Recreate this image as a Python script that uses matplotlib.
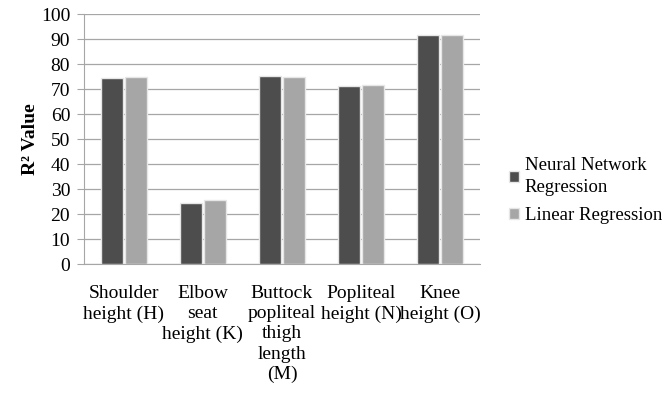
import numpy as np
import matplotlib
matplotlib.use('Agg')
import matplotlib.pyplot as plt

# data
categories = ['Shoulder\nheight (H)', 'Elbow\nseat\nheight (K)',
              'Buttock\npopliteal\nthigh\nlength\n(M)', 'Popliteal\nheight (N)',
              'Knee\nheight (O)']
nn_values = [74.3, 24.4, 75.2, 71.3, 91.7]
lr_values = [74.8, 25.6, 74.9, 71.6, 91.7]
series_names = ['Neural Network\nRegression', 'Linear Regression']
yticks = list(range(0, 101, 10))

plt.rcParams['font.family'] = ['Liberation Serif', 'DejaVu Serif']
plt.rcParams['font.size'] = 14

fig = plt.figure(figsize=(6.62, 3.93), dpi=100)
ax = fig.add_axes([0.127, 0.328, 0.598, 0.636])

x = np.arange(len(categories))
w = 0.28
b1 = ax.bar(x - w / 2 - 0.012, nn_values, w, color='#4d4d4d',
            edgecolor='#e6e6e6', linewidth=1.0, label=series_names[0], zorder=3)
b2 = ax.bar(x + w / 2 + 0.012, lr_values, w, color='#a6a6a6',
            edgecolor='#e6e6e6', linewidth=1.0, label=series_names[1], zorder=3)

ax.set_xlim(-0.5, len(categories) - 0.5)
ax.set_ylim(0, 100)
ax.set_yticks(yticks)
ax.yaxis.grid(True, color='#a6a6a6', linewidth=0.9, zorder=0)
ax.set_axisbelow(True)

ax.set_xticks(x)
ax.set_xticklabels(categories, linespacing=1.25, va='top')
ax.tick_params(axis='x', length=0, pad=15)
ax.tick_params(axis='y', length=5, color='#a6a6a6', pad=5, labelsize=14)

for s in ['top', 'right']:
    ax.spines[s].set_visible(False)
for s in ['left', 'bottom']:
    ax.spines[s].set_color('#a6a6a6')

ax.set_ylabel('R² Value', fontweight='bold', labelpad=1)

leg = fig.legend(handles=[b1, b2], loc='center left', bbox_to_anchor=(0.743, 0.515),
                 frameon=False, handlelength=0.55, handleheight=0.55,
                 handletextpad=0.3, labelspacing=0.6, fontsize=13.5)
for t in leg.get_texts():
    t.set_linespacing(1.35)

fig.savefig('out.png', dpi=100)
